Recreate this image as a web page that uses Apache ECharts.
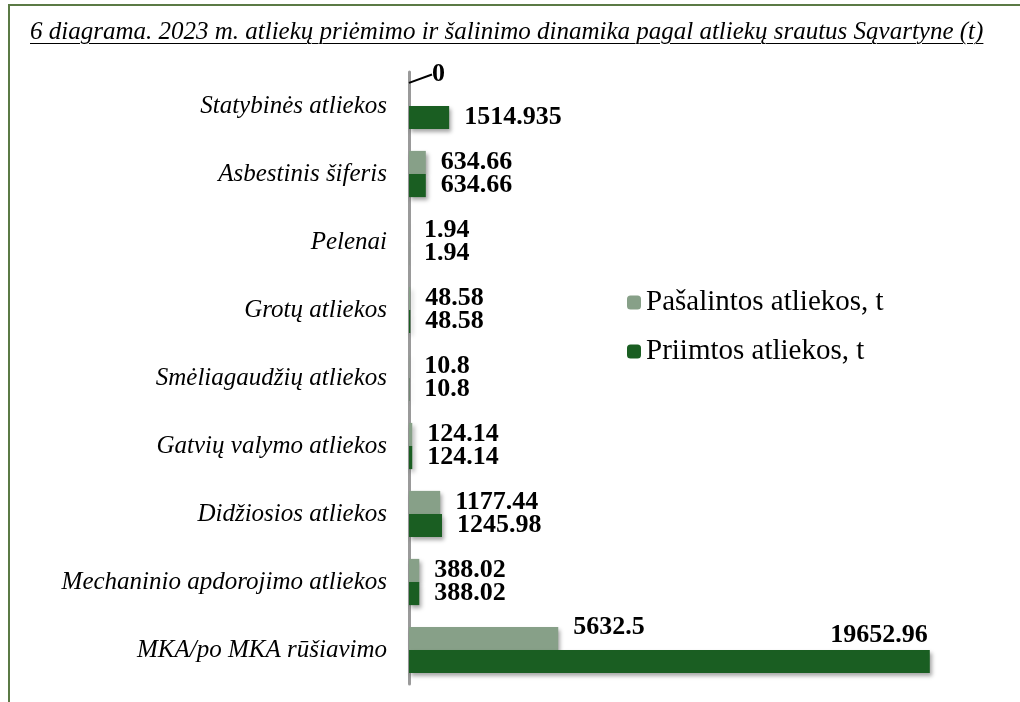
<!DOCTYPE html>
<html><head><meta charset="utf-8">
<script src="https://cdn.jsdelivr.net/npm/echarts@6/dist/echarts.min.js"></script>
<style>
html,body{margin:0;padding:0;background:#fff;}
#frame{position:absolute;left:8px;top:4px;width:1012px;height:698px;border-top:2px solid #5b7a45;border-left:2px solid #5b7a45;box-sizing:border-box;}
#chart{position:absolute;left:0;top:0;width:1020px;height:702px;}
#title{position:absolute;left:30px;top:17px;font-family:"Liberation Serif","DejaVu Serif",serif;font-style:italic;font-size:25px;color:#000;text-decoration:underline;text-decoration-thickness:1px;text-underline-offset:4px;white-space:nowrap;z-index:2;}
</style></head>
<body>
<div id="frame"></div>
<div id="chart"></div>
<div id="title"></div>
<script>
var titleText = '6 diagrama. 2023 m. atliekų priėmimo ir šalinimo dinamika pagal atliekų srautus Sąvartyne (t)';
var categories = ['MKA/po MKA rūšiavimo','Mechaninio apdorojimo atliekos','Didžiosios atliekos','Gatvių valymo atliekos','Smėliagaudžių atliekos','Grotų atliekos','Pelenai','Asbestinis šiferis','Statybinės atliekos'];
var seriesNames = ['Pašalintos atliekos, t','Priimtos atliekos, t'];
var pasalintos = [5632.5, 388.02, 1177.44, 124.14, 10.8, 48.58, 1.94, 634.66, 0];
var priimtos = [19652.96, 388.02, 1245.98, 124.14, 10.8, 48.58, 1.94, 634.66, 1514.935];

document.getElementById('title').textContent = titleText;
var chart = echarts.init(document.getElementById('chart'));
var serif = '"Liberation Serif","DejaVu Serif",serif';
var lblBase = {show:true, position:'right', distance:15, color:'#000', fontFamily:serif, fontWeight:'bold', fontSize:26,
  formatter:function(p){return String(p.value);}};
var shadow = {shadowBlur:4, shadowOffsetX:2, shadowOffsetY:3, shadowColor:'rgba(0,0,0,0.35)'};

function mk(vals, si){
  return vals.map(function(v,i){
    var d = {value:v};
    if(si===0 && i===0){ d.label = {position:['100%',0], align:'left', verticalAlign:'middle', padding:[0,0,0,15]}; }
    if(si===1 && i===0){ d.label = {position:['100%',0], align:'right', verticalAlign:'bottom', padding:[0,2,2,0]}; }
    if(si===0 && i===vals.length-1){ d.labelLine = {show:true, lineStyle:{color:'#000', width:2}}; }
    return d;
  });
}

chart.setOption({
  animation:false,
  legend:{orient:'vertical', left:622, top:283, itemWidth:14, itemHeight:14, itemGap:20,
    textStyle:{fontFamily:serif, fontSize:29, color:'#000'}, data:seriesNames},
  grid:{left:409, right:81, top:72, bottom:18, containLabel:false},
  xAxis:{type:'value', min:0, max:20000, show:false},
  yAxis:{type:'category', data:categories,
    axisLine:{show:true, lineStyle:{color:'#9a9a9a', width:3}},
    axisTick:{show:false},
    axisLabel:{margin:22, color:'#000', fontFamily:serif, fontStyle:'italic', fontSize:25}},
  series:[
    {name:seriesNames[0], type:'bar', data:mk(pasalintos,0), barGap:'0%', barCategoryGap:'32%',
      itemStyle:Object.assign({color:'#87a088'}, shadow), label:lblBase,
      labelLine:{show:false}},
    {name:seriesNames[1], type:'bar', data:mk(priimtos,1), barGap:'0%', barCategoryGap:'32%',
      itemStyle:Object.assign({color:'#1a5e22'}, shadow), label:lblBase}
  ],
  labelLayout:function(p){
    if(p.seriesIndex===0 && p.dataIndex===8){ return {dx:8, dy:-20}; }
    return {};
  }
});
</script>
</body></html>
